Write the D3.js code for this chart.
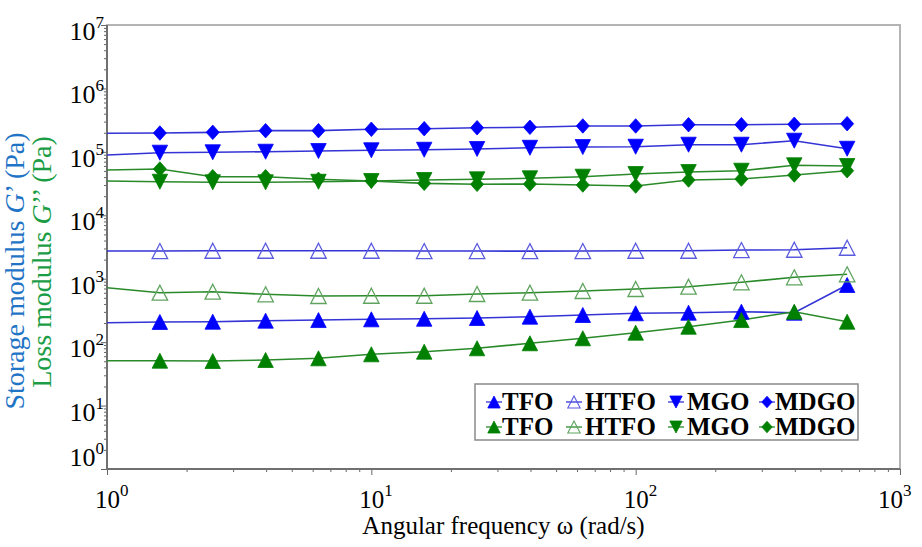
<!DOCTYPE html>
<html>
<head>
<meta charset="utf-8">
<script src="https://cdn.jsdelivr.net/npm/d3@7"></script>
<style>
body { margin: 0; background: #fff; }
text { font-family: "Liberation Serif", "Times New Roman", serif; }
</style>
</head>
<body>
<svg id="chart" width="922" height="547"></svg>
<script>
// angular frequency (rad/s); first point sits on the left edge, no marker drawn there
var omega = [1, 1.585, 2.512, 3.981, 6.31, 10, 15.85, 25.12, 39.81, 63.1, 100, 158.5, 251.2, 398.1, 631];

// storage modulus G' (Pa)
var gp_TFO  = [202, 208, 210, 218, 223, 229, 234, 240, 252, 268, 285, 291, 302, 291, 796];
var gp_HTFO = [2730, 2730, 2760, 2760, 2760, 2760, 2730, 2730, 2720, 2730, 2760, 2760, 2830, 2860, 3080];
var gp_MGO  = [89200, 97000, 98500, 100500, 103000, 106000, 108000, 111000, 116000, 119000, 120500, 129600, 129600, 150000, 112000];
var gp_MDGO = [196000, 198000, 203000, 216000, 216000, 227000, 232000, 240000, 244000, 256000, 256000, 268000, 268000, 272000, 278000];

// loss modulus G'' (Pa)
var gpp_TFO  = [51, 51, 50.4, 52.3, 55.6, 64.3, 70.7, 80, 96, 115, 141, 175, 223, 302, 210];
var gpp_HTFO = [721, 602, 624, 568, 534, 539, 539, 574, 602, 640, 689, 748, 878, 1052, 1174];
var gpp_MGO  = [34700, 33800, 33100, 33100, 33800, 34700, 36000, 36900, 38300, 40600, 44700, 48100, 50400, 61400, 59800];
var gpp_MDGO = [51800, 53700, 40600, 40600, 36900, 34700, 31900, 30800, 31100, 30000, 28900, 36000, 37300, 43200, 50400];

var legend_names = ['TFO', 'HTFO', 'MGO', 'MDGO'];
var x_ticks = [1, 10, 100, 1000];
var y_ticks = [1, 10, 100, 1e3, 1e4, 1e5, 1e6, 1e7];

var svg = d3.select('#chart');

var pl = 107, pr = 900, pt = 25, pb = 469;

var x = d3.scaleLog().domain([1, 1000]).range([pl, pr]);
var y = d3.scaleLog().domain([1, 1e7]).range([pb, pt]);

function minors(lo, hi) {
    var out = [];
    for (var d = lo; d < hi; d *= 10)
        for (var k = 2; k <= 9; k++) out.push(d * k);
    return out;
}

var BLUE = '#0000ff', BLUE_LINE = '#3434d6', BLUE_OPEN = '#5b5be0';
var GREEN = '#008000', GREEN_LINE = '#2a8a2a', GREEN_OPEN = '#5fa35f';

var series = [
    {vals: gp_TFO,   line: BLUE_LINE,  fill: BLUE,  stroke: BLUE,  shape: 'up'},
    {vals: gp_HTFO,  line: BLUE_LINE,  fill: 'none', stroke: BLUE_OPEN,  shape: 'up'},
    {vals: gp_MGO,   line: BLUE_LINE,  fill: BLUE,  stroke: BLUE,  shape: 'down'},
    {vals: gp_MDGO,  line: BLUE_LINE,  fill: BLUE,  stroke: BLUE,  shape: 'diamond'},
    {vals: gpp_TFO,  line: GREEN_LINE, fill: GREEN, stroke: GREEN, shape: 'up'},
    {vals: gpp_HTFO, line: GREEN_LINE, fill: 'none', stroke: GREEN_OPEN, shape: 'up'},
    {vals: gpp_MGO,  line: GREEN_LINE, fill: GREEN, stroke: GREEN, shape: 'down'},
    {vals: gpp_MDGO, line: GREEN_LINE, fill: GREEN, stroke: GREEN, shape: 'diamond'}
];

function shapePath(shape, s) {
    var h = s / 2;
    if (shape === 'up')   return 'M0,' + (-h) + 'L' + h * 1.03 + ',' + h + 'L' + (-h * 1.03) + ',' + h + 'Z';
    if (shape === 'down') return 'M0,' + h + 'L' + h * 1.03 + ',' + (-h) + 'L' + (-h * 1.03) + ',' + (-h) + 'Z';
    return 'M0,' + (-h) + 'L' + h * 0.9 + ',0L0,' + h + 'L' + (-h * 0.9) + ',0Z';
}
function markSize(shape) { return shape === 'diamond' ? 14.5 : 15; }

// frame
svg.append('rect')
   .attr('x', pl).attr('y', pt)
   .attr('width', pr - pl).attr('height', pb - pt)
   .style('fill', 'none').style('stroke', '#b4b4b4').style('stroke-width', 2);

// axes: majors, minors
function styleAxis(g) {
    g.select('.domain').remove();
    g.selectAll('line').style('stroke', '#666').style('stroke-width', 1);
}
svg.append('g').attr('transform', 'translate(0,' + pb + ')')
   .call(d3.axisBottom(x).tickValues(x_ticks).tickSize(6).tickFormat(''))
   .call(styleAxis);
svg.append('g').attr('transform', 'translate(0,' + pb + ')')
   .call(d3.axisBottom(x).tickValues(minors(1, 1000)).tickSize(3).tickFormat(''))
   .call(styleAxis);
svg.append('g').attr('transform', 'translate(' + pl + ',0)')
   .call(d3.axisLeft(y).tickValues(y_ticks).tickSize(6).tickFormat(''))
   .call(styleAxis);
svg.append('g').attr('transform', 'translate(' + pl + ',0)')
   .call(d3.axisLeft(y).tickValues(minors(1, 1e7)).tickSize(3).tickFormat(''))
   .call(styleAxis);

svg.append('line').attr('x1', pl).attr('x2', pr).attr('y1', pb).attr('y2', pb)
   .style('stroke', '#707070').style('stroke-width', 2);
svg.append('line').attr('x1', pl).attr('x2', pl).attr('y1', pt).attr('y2', pb)
   .style('stroke', '#707070').style('stroke-width', 2);

// tick labels
var yl = svg.selectAll('text.ylab').data(y_ticks).enter().append('text')
   .attr('class', 'ylab')
   .attr('x', 104)
   .attr('y', function(d){ return Math.min(y(d) + 15, 466); })
   .attr('text-anchor', 'end')
   .style('font-size', '26px');
yl.append('tspan').text('10');
yl.append('tspan').attr('dy', -12).style('font-size', '17px')
  .text(function(d){ return Math.round(Math.log10(d)); });

var xl = svg.selectAll('text.xlab').data(x_ticks).enter().append('text')
   .attr('class', 'xlab')
   .attr('x', function(d){ return Math.min(x(d) - 12, 878); })
   .attr('y', 508)
   .style('font-size', '25px');
xl.append('tspan').text('10');
xl.append('tspan').attr('dy', -12).style('font-size', '17px')
  .text(function(d){ return Math.round(Math.log10(d)); });

// axis titles
svg.append('text')
   .attr('x', (pl + pr) / 2).attr('y', 534)
   .attr('text-anchor', 'middle')
   .style('font-size', '25px')
   .text('Angular frequency \u03c9 (rad/s)');

var t1 = svg.append('text')
   .attr('transform', 'translate(24,271) rotate(-90)')
   .attr('text-anchor', 'middle')
   .style('font-size', '28px').style('fill', '#1f74c6');
t1.append('tspan').text('Storage modulus ');
t1.append('tspan').style('font-style', 'italic').text('G');
t1.append('tspan').text('\u2019 (Pa)');

var t2 = svg.append('text')
   .attr('transform', 'translate(51,262) rotate(-90)')
   .attr('text-anchor', 'middle')
   .style('font-size', '28px').style('fill', '#1a9d45');
t2.append('tspan').text('Loss modulus ');
t2.append('tspan').style('font-style', 'italic').text('G');
t2.append('tspan').text('\u2019\u2019 (Pa)');

// lines
var line = d3.line()
   .x(function(d, i){ return x(omega[i]); })
   .y(function(d){ return y(d); });

svg.selectAll('path.series').data(series).enter().append('path')
   .attr('class', 'series')
   .attr('d', function(s){ return line(s.vals); })
   .style('fill', 'none')
   .style('stroke', function(s){ return s.line; })
   .style('stroke-width', 1.6);

// markers
series.forEach(function(s) {
    var pts = s.vals.map(function(v, i){ return {w: omega[i], v: v}; })
                    .filter(function(p){ return p.w > 1; });
    svg.append('g').selectAll('path').data(pts).enter().append('path')
       .attr('transform', function(p){ return 'translate(' + x(p.w) + ',' + y(p.v) + ')'; })
       .attr('d', shapePath(s.shape, markSize(s.shape)))
       .style('fill', s.fill)
       .style('stroke', s.stroke)
       .style('stroke-width', s.fill === 'none' ? 1.3 : 0.8);
});

// legend
var lg = svg.append('g').attr('transform', 'translate(475,384)');
lg.append('rect').attr('width', 383).attr('height', 56)
  .style('fill', '#fff').style('stroke', '#8a8a8a').style('stroke-width', 1.5);
var colX = [19, 99, 201, 292];
var rowY = [18, 43];
series.forEach(function(s, k) {
    var c = k % 4, r = Math.floor(k / 4);
    var g = lg.append('g').attr('transform', 'translate(' + colX[c] + ',' + rowY[r] + ')');
    g.append('line').attr('x1', -8).attr('x2', 8)
     .style('stroke', s.line).style('stroke-width', 1.3);
    g.append('path').attr('d', shapePath(s.shape, markSize(s.shape) - 3))
     .style('fill', s.fill).style('stroke', s.stroke)
     .style('stroke-width', s.fill === 'none' ? 1.1 : 0.8);
    g.append('text').attr('x', c === 0 || c === 3 ? 8 : 11).attr('y', 8)
     .style('font-size', '25px').style('font-weight', 'bold')
     .text(legend_names[c]);
});
</script>
</body>
</html>
